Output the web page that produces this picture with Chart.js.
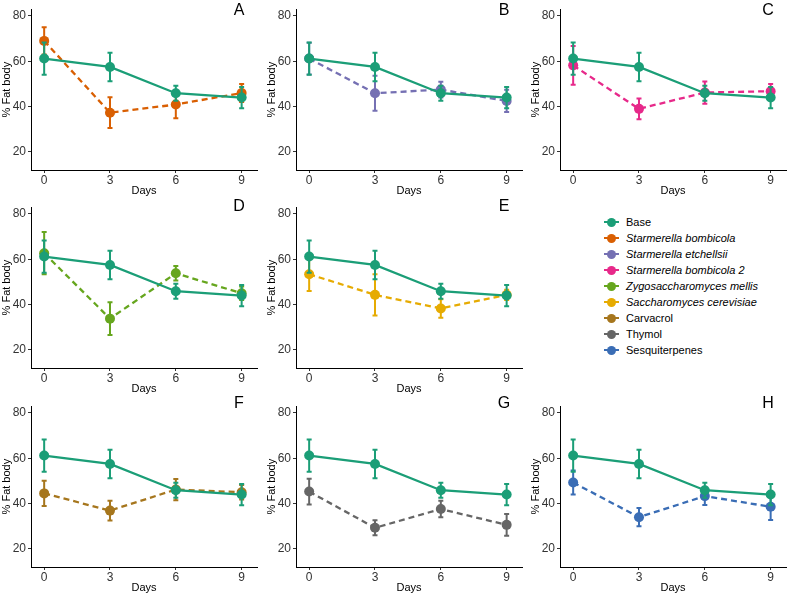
<!DOCTYPE html>
<html>
<head>
<meta charset="utf-8">
<script src="https://cdn.jsdelivr.net/npm/chart.js@4.4.1/dist/chart.umd.min.js"></script>
<style>
  body { margin: 0; background: #fff; width: 792px; height: 595px; position: relative; overflow: hidden;
         font-family: "Liberation Sans", Arial, sans-serif; }
  canvas { position: absolute; }
  .tag { position: absolute; font-size: 16px; color: #000; width: 20px; text-align: center; line-height: 16px; }
  #legend { position: absolute; left: 604px; top: 214px; font-size: 11px; line-height: 16px; color: #000; }
  #legend div { white-space: nowrap; }
  .key { display: inline-block; position: relative; width: 15px; height: 2px; vertical-align: middle; margin-right: 7px; top: -1px; }
  .key i { position: absolute; left: 3px; top: -3.5px; width: 9px; height: 9px; border-radius: 50%; background: inherit; }
</style>
</head>
<body>
<div id="legend"></div>
<script>
// Werte (Mittelwert und Fehlerbalken-Halbbreite)
const days = [0, 3, 6, 9];
const yTicks = [20, 40, 60, 80];

const baseMean = [61.2, 57.5, 45.9, 44.0];
const baseErr = [7.1, 6.3, 3.3, 4.7];

const bombicolaMean = [69.0, 37.3, 40.9, 46.0];
const bombicolaErr = [6.0, 6.8, 6.1, 4.0];
const etchellsiiMean = [61.2, 45.9, 47.5, 42.5];
const etchellsiiErr = [7.0, 7.7, 3.5, 4.9];
const bombicola2Mean = [58.2, 39.0, 46.2, 46.8];
const bombicola2Err = [8.6, 4.6, 4.9, 3.2];
const mellisMean = [62.7, 33.8, 53.8, 45.0];
const mellisErr = [9.3, 7.2, 3.2, 3.0];
const cerevisiaeMean = [53.4, 44.3, 38.3, 44.3];
const cerevisiaeErr = [7.4, 9.1, 4.1, 2.3];
const carvacrolMean = [44.5, 36.9, 46.2, 45.0];
const carvacrolErr = [5.6, 4.4, 4.7, 3.2];
const thymolMean = [45.3, 29.3, 37.6, 30.6];
const thymolErr = [5.7, 3.3, 3.6, 4.8];
const sesquiMean = [49.3, 34.0, 43.3, 38.6];
const sesquiErr = [5.3, 4.0, 3.9, 5.8];

const seriesNames = ['Base', 'Starmerella bombicola', 'Starmerella etchellsii', 'Starmerella bombicola 2',
  'Zygosaccharomyces mellis', 'Saccharomyces cerevisiae', 'Carvacrol', 'Thymol', 'Sesquiterpenes'];
const seriesItalic = [false, true, true, true, true, true, false, false, false];
const seriesColors = ['#1B9E77', '#D95F02', '#7570B3', '#E7298A', '#66A61E', '#E6AB02', '#A6761D', '#666666', '#3A6DB5'];

// Panels: Buchstabe, Serie, Position
const panels = [
  { tag: 'A', s: 1, mean: bombicolaMean, err: bombicolaErr, x: 0, y: 0 },
  { tag: 'B', s: 2, mean: etchellsiiMean, err: etchellsiiErr, x: 265, y: 0 },
  { tag: 'C', s: 3, mean: bombicola2Mean, err: bombicola2Err, x: 529, y: 0 },
  { tag: 'D', s: 4, mean: mellisMean, err: mellisErr, x: 0, y: 198 },
  { tag: 'E', s: 5, mean: cerevisiaeMean, err: cerevisiaeErr, x: 265, y: 198 },
  { tag: 'F', s: 6, mean: carvacrolMean, err: carvacrolErr, x: 0, y: 397 },
  { tag: 'G', s: 7, mean: thymolMean, err: thymolErr, x: 265, y: 397 },
  { tag: 'H', s: 8, mean: sesquiMean, err: sesquiErr, x: 529, y: 397 },
];

// Fehlerbalken je Datensatz direkt vor dem Datensatz zeichnen
const errorBars = {
  id: 'errorBars',
  beforeDatasetDraw(chart, args) {
    const ds = chart.data.datasets[args.index];
    if (!ds.errors) return;
    const ctx = chart.ctx, xs = chart.scales.x, ys = chart.scales.y;
    ctx.save();
    ctx.strokeStyle = ds.borderColor;
    ctx.lineWidth = 2;
    ctx.setLineDash([]);
    ds.data.forEach((p, i) => {
      const px = xs.getPixelForValue(p.x);
      const top = ys.getPixelForValue(p.y + ds.errors[i]);
      const bot = ys.getPixelForValue(p.y - ds.errors[i]);
      ctx.beginPath();
      ctx.moveTo(px, top); ctx.lineTo(px, bot);
      ctx.moveTo(px - 2.5, top); ctx.lineTo(px + 2.5, top);
      ctx.moveTo(px - 2.5, bot); ctx.lineTo(px + 2.5, bot);
      ctx.stroke();
    });
    ctx.restore();
  }
};

function makeSet(idx, mean, err, dashed) {
  return {
    label: seriesNames[idx],
    data: days.map((d, i) => ({ x: d, y: mean[i] })),
    errors: err,
    borderColor: seriesColors[idx],
    backgroundColor: seriesColors[idx],
    borderWidth: 2.3,
    borderDash: dashed ? [6, 4] : [],
    pointRadius: 5,
    pointBorderWidth: 0,
    pointHoverRadius: 5,
    tension: 0,
  };
}

const tickFont = { family: '"Liberation Sans", Arial, sans-serif', size: 12 };
const titleFont = { family: '"Liberation Sans", Arial, sans-serif', size: 11 };

panels.forEach(p => {
  const cv = document.createElement('canvas');
  cv.width = 262; cv.height = 198;
  cv.style.left = p.x + 'px'; cv.style.top = p.y + 'px';
  document.body.appendChild(cv);

  new Chart(cv, {
    type: 'line',
    data: { datasets: [makeSet(0, baseMean, baseErr, false), makeSet(p.s, p.mean, p.err, true)] },
    plugins: [errorBars],
    options: {
      responsive: false,
      animation: false,
      devicePixelRatio: 1,
      layout: { padding: { top: 2, right: 4, left: 0, bottom: 0 } },
      plugins: { legend: { display: false }, tooltip: { enabled: false } },
      scales: {
        x: {
          type: 'linear', min: -0.6, max: 9.7,
          afterBuildTicks: s => { s.ticks = days.map(v => ({ value: v })); },
          afterFit: s => { s.height = 28; },
          grid: { drawOnChartArea: false, tickLength: 3, color: '#333' },
          border: { color: '#000', width: 1 },
          ticks: { color: '#333', font: tickFont, padding: 0, maxRotation: 0 },
          title: { display: true, text: 'Days', color: '#000', font: titleFont, padding: 0 },
        },
        y: {
          min: 12, max: 83,
          afterBuildTicks: s => { s.ticks = yTicks.map(v => ({ value: v })); },
          afterFit: s => { s.width = 31; },
          grid: { drawOnChartArea: false, tickLength: 3, color: '#333' },
          border: { color: '#000', width: 1 },
          ticks: { color: '#333', font: tickFont, padding: 2 },
          title: { display: true, text: '% Fat body', color: '#000', font: titleFont, padding: 0 },
        },
      },
    },
  });

  const t = document.createElement('div');
  t.className = 'tag';
  t.textContent = p.tag;
  t.style.left = (p.x + 229) + 'px';
  t.style.top = (p.y + (p.y === 0 ? 2 : p.y < 300 ? 0 : -2)) + 'px';
  document.body.appendChild(t);
});

// Legende
const legend = document.getElementById('legend');
seriesNames.forEach((name, i) => {
  const row = document.createElement('div');
  const key = document.createElement('span');
  key.className = 'key';
  key.style.background = seriesColors[i];
  key.appendChild(document.createElement('i'));
  const txt = document.createElement('span');
  txt.textContent = name;
  if (seriesItalic[i]) txt.style.fontStyle = 'italic';
  row.appendChild(key); row.appendChild(txt);
  legend.appendChild(row);
});
</script>
</body>
</html>
